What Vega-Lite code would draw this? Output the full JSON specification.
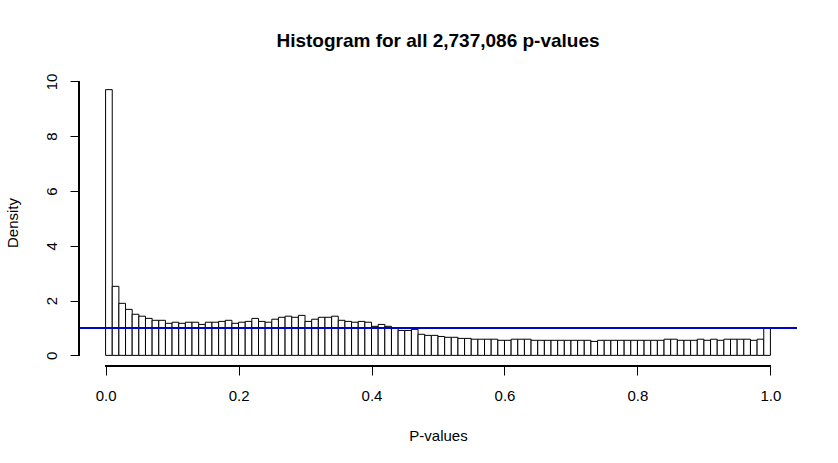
{
  "$schema": "https://vega.github.io/schema/vega-lite/v6.json",
  "width": 718,
  "height": 287,
  "autosize": {"type": "none"},
  "padding": {"left": 79, "top": 79, "right": 41, "bottom": 97},
  "background": "white",
  "title": {
    "text": "Histogram for all 2,737,086 p-values",
    "font": "Liberation Sans",
    "fontSize": 19,
    "fontWeight": "bold",
    "color": "black",
    "baseline": "alphabetic",
    "offset": 7
  },
  "data": {
    "values": [
      {"bin_start": 0.00, "bin_end": 0.01, "density": 9.70},
      {"bin_start": 0.01, "bin_end": 0.02, "density": 2.52},
      {"bin_start": 0.02, "bin_end": 0.03, "density": 1.90},
      {"bin_start": 0.03, "bin_end": 0.04, "density": 1.68},
      {"bin_start": 0.04, "bin_end": 0.05, "density": 1.50},
      {"bin_start": 0.05, "bin_end": 0.06, "density": 1.43},
      {"bin_start": 0.06, "bin_end": 0.07, "density": 1.35},
      {"bin_start": 0.07, "bin_end": 0.08, "density": 1.28},
      {"bin_start": 0.08, "bin_end": 0.09, "density": 1.28},
      {"bin_start": 0.09, "bin_end": 0.10, "density": 1.17},
      {"bin_start": 0.10, "bin_end": 0.11, "density": 1.21},
      {"bin_start": 0.11, "bin_end": 0.12, "density": 1.17},
      {"bin_start": 0.12, "bin_end": 0.13, "density": 1.21},
      {"bin_start": 0.13, "bin_end": 0.14, "density": 1.21},
      {"bin_start": 0.14, "bin_end": 0.15, "density": 1.13},
      {"bin_start": 0.15, "bin_end": 0.16, "density": 1.21},
      {"bin_start": 0.16, "bin_end": 0.17, "density": 1.21},
      {"bin_start": 0.17, "bin_end": 0.18, "density": 1.24},
      {"bin_start": 0.18, "bin_end": 0.19, "density": 1.28},
      {"bin_start": 0.19, "bin_end": 0.20, "density": 1.17},
      {"bin_start": 0.20, "bin_end": 0.21, "density": 1.21},
      {"bin_start": 0.21, "bin_end": 0.22, "density": 1.24},
      {"bin_start": 0.22, "bin_end": 0.23, "density": 1.35},
      {"bin_start": 0.23, "bin_end": 0.24, "density": 1.24},
      {"bin_start": 0.24, "bin_end": 0.25, "density": 1.21},
      {"bin_start": 0.25, "bin_end": 0.26, "density": 1.32},
      {"bin_start": 0.26, "bin_end": 0.27, "density": 1.39},
      {"bin_start": 0.27, "bin_end": 0.28, "density": 1.43},
      {"bin_start": 0.28, "bin_end": 0.29, "density": 1.39},
      {"bin_start": 0.29, "bin_end": 0.30, "density": 1.46},
      {"bin_start": 0.30, "bin_end": 0.31, "density": 1.24},
      {"bin_start": 0.31, "bin_end": 0.32, "density": 1.32},
      {"bin_start": 0.32, "bin_end": 0.33, "density": 1.39},
      {"bin_start": 0.33, "bin_end": 0.34, "density": 1.39},
      {"bin_start": 0.34, "bin_end": 0.35, "density": 1.43},
      {"bin_start": 0.35, "bin_end": 0.36, "density": 1.28},
      {"bin_start": 0.36, "bin_end": 0.37, "density": 1.24},
      {"bin_start": 0.37, "bin_end": 0.38, "density": 1.21},
      {"bin_start": 0.38, "bin_end": 0.39, "density": 1.24},
      {"bin_start": 0.39, "bin_end": 0.40, "density": 1.21},
      {"bin_start": 0.40, "bin_end": 0.41, "density": 1.06},
      {"bin_start": 0.41, "bin_end": 0.42, "density": 1.13},
      {"bin_start": 0.42, "bin_end": 0.43, "density": 1.06},
      {"bin_start": 0.43, "bin_end": 0.44, "density": 1.00},
      {"bin_start": 0.44, "bin_end": 0.45, "density": 0.91},
      {"bin_start": 0.45, "bin_end": 0.46, "density": 0.91},
      {"bin_start": 0.46, "bin_end": 0.47, "density": 0.95},
      {"bin_start": 0.47, "bin_end": 0.48, "density": 0.77},
      {"bin_start": 0.48, "bin_end": 0.49, "density": 0.73},
      {"bin_start": 0.49, "bin_end": 0.50, "density": 0.73},
      {"bin_start": 0.50, "bin_end": 0.51, "density": 0.69},
      {"bin_start": 0.51, "bin_end": 0.52, "density": 0.66},
      {"bin_start": 0.52, "bin_end": 0.53, "density": 0.66},
      {"bin_start": 0.53, "bin_end": 0.54, "density": 0.62},
      {"bin_start": 0.54, "bin_end": 0.55, "density": 0.62},
      {"bin_start": 0.55, "bin_end": 0.56, "density": 0.59},
      {"bin_start": 0.56, "bin_end": 0.57, "density": 0.59},
      {"bin_start": 0.57, "bin_end": 0.58, "density": 0.59},
      {"bin_start": 0.58, "bin_end": 0.59, "density": 0.59},
      {"bin_start": 0.59, "bin_end": 0.60, "density": 0.55},
      {"bin_start": 0.60, "bin_end": 0.61, "density": 0.55},
      {"bin_start": 0.61, "bin_end": 0.62, "density": 0.59},
      {"bin_start": 0.62, "bin_end": 0.63, "density": 0.59},
      {"bin_start": 0.63, "bin_end": 0.64, "density": 0.59},
      {"bin_start": 0.64, "bin_end": 0.65, "density": 0.55},
      {"bin_start": 0.65, "bin_end": 0.66, "density": 0.55},
      {"bin_start": 0.66, "bin_end": 0.67, "density": 0.55},
      {"bin_start": 0.67, "bin_end": 0.68, "density": 0.55},
      {"bin_start": 0.68, "bin_end": 0.69, "density": 0.55},
      {"bin_start": 0.69, "bin_end": 0.70, "density": 0.55},
      {"bin_start": 0.70, "bin_end": 0.71, "density": 0.55},
      {"bin_start": 0.71, "bin_end": 0.72, "density": 0.55},
      {"bin_start": 0.72, "bin_end": 0.73, "density": 0.55},
      {"bin_start": 0.73, "bin_end": 0.74, "density": 0.51},
      {"bin_start": 0.74, "bin_end": 0.75, "density": 0.55},
      {"bin_start": 0.75, "bin_end": 0.76, "density": 0.55},
      {"bin_start": 0.76, "bin_end": 0.77, "density": 0.55},
      {"bin_start": 0.77, "bin_end": 0.78, "density": 0.55},
      {"bin_start": 0.78, "bin_end": 0.79, "density": 0.55},
      {"bin_start": 0.79, "bin_end": 0.80, "density": 0.55},
      {"bin_start": 0.80, "bin_end": 0.81, "density": 0.55},
      {"bin_start": 0.81, "bin_end": 0.82, "density": 0.55},
      {"bin_start": 0.82, "bin_end": 0.83, "density": 0.55},
      {"bin_start": 0.83, "bin_end": 0.84, "density": 0.55},
      {"bin_start": 0.84, "bin_end": 0.85, "density": 0.59},
      {"bin_start": 0.85, "bin_end": 0.86, "density": 0.59},
      {"bin_start": 0.86, "bin_end": 0.87, "density": 0.55},
      {"bin_start": 0.87, "bin_end": 0.88, "density": 0.55},
      {"bin_start": 0.88, "bin_end": 0.89, "density": 0.55},
      {"bin_start": 0.89, "bin_end": 0.90, "density": 0.59},
      {"bin_start": 0.90, "bin_end": 0.91, "density": 0.55},
      {"bin_start": 0.91, "bin_end": 0.92, "density": 0.59},
      {"bin_start": 0.92, "bin_end": 0.93, "density": 0.55},
      {"bin_start": 0.93, "bin_end": 0.94, "density": 0.59},
      {"bin_start": 0.94, "bin_end": 0.95, "density": 0.59},
      {"bin_start": 0.95, "bin_end": 0.96, "density": 0.59},
      {"bin_start": 0.96, "bin_end": 0.97, "density": 0.59},
      {"bin_start": 0.97, "bin_end": 0.98, "density": 0.55},
      {"bin_start": 0.98, "bin_end": 0.99, "density": 0.59},
      {"bin_start": 0.99, "bin_end": 1.00, "density": 0.99}
    ]
  },
  "encoding": {
    "x": {
      "field": "bin_start",
      "type": "quantitative",
      "scale": {"domain": [-0.04, 1.04], "nice": false, "zero": false},
      "axis": {
        "title": "P-values",
        "values": [0, 0.2, 0.4, 0.6, 0.8, 1],
        "format": ".1f",
        "domain": false,
        "grid": false,
        "tickSize": 9,
        "tickColor": "black",
        "labelColor": "black",
        "labelFont": "Liberation Sans",
        "labelFontSize": 15,
        "labelBaseline": "alphabetic",
        "labelPadding": 25,
        "titleFont": "Liberation Sans",
        "titleFontSize": 15,
        "titleFontWeight": "normal",
        "titleColor": "black",
        "titleBaseline": "alphabetic",
        "titleY": 74
      }
    },
    "y": {
      "field": "density",
      "type": "quantitative",
      "scale": {"domain": [-0.388, 10.088], "nice": false, "zero": false},
      "axis": {
        "title": "Density",
        "values": [0, 2, 4, 6, 8, 10],
        "format": "d",
        "domain": false,
        "grid": false,
        "tickSize": 9,
        "tickColor": "black",
        "labelColor": "black",
        "labelFont": "Liberation Sans",
        "labelFontSize": 15,
        "labelAngle": -90,
        "labelAlign": "center",
        "labelBaseline": "alphabetic",
        "labelPadding": 14,
        "titleFont": "Liberation Sans",
        "titleFontSize": 15,
        "titleFontWeight": "normal",
        "titleColor": "black",
        "titleAngle": -90,
        "titleBaseline": "alphabetic",
        "titleX": -62
      }
    }
  },
  "layer": [
    {
      "mark": {"type": "bar", "fill": "white", "stroke": "black", "strokeWidth": 1},
      "encoding": {
        "x2": {"field": "bin_end"},
        "y2": {"datum": 0}
      }
    },
    {
      "mark": {"type": "rule", "color": "#0000cd", "strokeWidth": 1},
      "encoding": {
        "x": {"datum": -0.04},
        "x2": {"datum": 1.04},
        "y": {"datum": 1}
      }
    },
    {
      "mark": {"type": "rule", "color": "black", "strokeWidth": 1},
      "encoding": {
        "x": {"datum": 0},
        "x2": {"datum": 1},
        "y": {"datum": -0.388}
      }
    },
    {
      "mark": {"type": "rule", "color": "black", "strokeWidth": 1},
      "encoding": {
        "x": {"datum": -0.04},
        "y": {"datum": 0},
        "y2": {"datum": 10}
      }
    }
  ],
  "config": {
    "view": {"stroke": null}
  }
}
